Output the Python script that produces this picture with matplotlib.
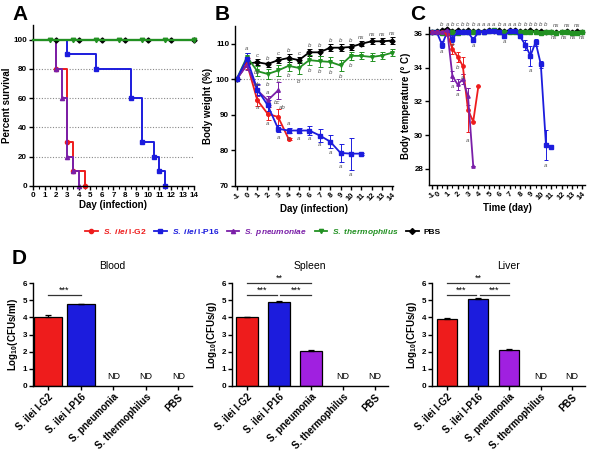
import numpy as np
import matplotlib
matplotlib.use("Agg")
import matplotlib.pyplot as plt
from matplotlib.lines import Line2D

plt.rcParams["font.family"] = ["Liberation Sans", "DejaVu Sans"]
plt.rcParams["font.weight"] = "bold"
plt.rcParams["axes.labelweight"] = "bold"
plt.rcParams["axes.linewidth"] = 1.0
plt.rcParams["mathtext.fontset"] = "custom"
plt.rcParams["mathtext.it"] = "Liberation Sans:bold:italic"
plt.rcParams["mathtext.rm"] = "Liberation Sans:bold"
plt.rcParams["mathtext.bf"] = "Liberation Sans:bold"

# ----------------------------
# colours / group names
# ----------------------------
RED, BLUE, PURPLE, GREEN, BLACK = "#ee1c1c", "#1c1cdd", "#7a1fa8", "#229122", "#000000"
BAR_PURPLE = "#a020e0"

# ----------------------------
# A: survival (Kaplan-Meier steps)
# ----------------------------
surv_red_t = [0, 2, 3, 3.5, 4.5]
surv_red = [100, 80, 30, 10, 0]
surv_purple_t = [0, 2, 2.5, 3, 3.5, 4]
surv_purple = [100, 80, 60, 20, 10, 0]
surv_blue_t = [0, 3, 5.5, 8.5, 9.5, 10.5, 11, 11.5]
surv_blue = [100, 90, 80, 60, 30, 20, 10, 0]
surv_green_marks = [1.5, 3.5, 5.5, 7.5, 9.5, 11.5, 14]
surv_black_marks = [2, 4, 6, 8, 10, 12, 14]

# ----------------------------
# B: body weight (%)
# ----------------------------
bw_days = list(range(-1, 15))
bw_black = [100, 104.4, 104.8, 104.3, 105.4, 106.0, 105.4, 107.6, 107.6, 108.9, 108.9, 109.1, 110.0, 110.7, 110.7, 110.9]
bw_black_err = [0, 0.8, 0.8, 0.7, 0.8, 1.0, 0.9, 1.0, 0.9, 1.0, 0.9, 0.8, 0.7, 0.8, 0.8, 1.1]
bw_green = [100, 106.3, 102.3, 101.5, 102.5, 103.8, 103.2, 105.4, 105.1, 104.9, 103.9, 106.6, 106.6, 106.3, 106.7, 107.5]
bw_green_err = [0, 1.2, 1.5, 1.5, 1.5, 1.5, 1.8, 1.5, 1.5, 1.5, 1.5, 1.2, 1.0, 1.2, 1.0, 1.0]
bw_blue = [100, 105.8, 97.1, 92.7, 86.1, 85.6, 85.6, 85.6, 84.2, 82.5, 79.3, 79.1, 79.1]
bw_blue_err = [0, 1.5, 1.5, 1.5, 1.0, 0.8, 0.8, 1.2, 1.8, 1.8, 2.5, 4.5, 0.3]
bw_red = [100, 104.4, 94.1, 90.3, 89.4, 83.3]
bw_red_err = [0, 1.5, 1.5, 1.8, 2.2, 0.3]
bw_purple = [100, 104.0, 96.9, 94.1, 96.9]
bw_purple_err = [0, 1.5, 1.5, 1.2, 2.3]
bw_letters = [
    (0, 108.6, "a"), (1, 106.6, "c"), (2, 106.0, "b"), (3, 107.2, "c"), (4, 108.0, "b"),
    (5, 107.3, "c"), (6, 109.6, "b"), (7, 109.6, "b"), (8, 110.8, "b"), (9, 110.8, "b"),
    (10, 111.0, "b"), (11, 111.8, "ns"), (12, 112.5, "ns"), (13, 112.5, "ns"), (14, 112.8, "ns"),
    (1, 101.9, "bc"), (2, 98.6, "b"), (3, 99.6, "c"), (4, 101.0, "b"), (5, 99.3, "b"),
    (6, 102.5, "b"), (7, 102.2, "b"), (8, 102.0, "b"), (9, 100.9, "b"), (10, 104.0, "b"),
    (1, 98.6, "ab"), (2, 96.4, "a"), (2.9, 93.4, "bc"), (3.35, 92.0, "ab"), (4, 87.6, "a"),
    (1, 92.0, "a"), (2, 87.5, "a"), (3, 83.6, "a"), (4, 83.4, "a"), (5, 83.4, "a"),
    (6, 83.3, "a"), (7, 81.6, "a"), (8, 79.3, "a"), (9, 75.5, "a"), (10, 73.3, "a"),
]

# ----------------------------
# C: body temperature
# ----------------------------
bt_t = [-1, 0, 0.5, 1, 1.5, 2, 2.5, 3, 3.5, 4, 4.5, 5, 5.5, 6, 6.5, 7, 7.5, 8, 8.5, 9,
        9.5, 10, 10.5, 11, 11.5, 12, 12.5, 13, 13.5, 14]
bt_black = [36.1, 36.15, 36.2, 36.3, 36.15, 36.2, 36.15, 36.2, 36.15, 36.15, 36.15, 36.2, 36.15, 36.2, 36.15,
            36.2, 36.2, 36.15, 36.15, 36.2, 36.15, 36.15, 36.1, 36.1, 36.1, 36.1, 36.15, 36.1, 36.15, 36.1]
bt_green = [36.1, 36.1, 36.05, 36.05, 36.1, 36.05, 36.1, 36.1, 36.1, 36.1, 36.1, 36.15, 36.25, 36.1, 36.1,
            36.1, 36.1, 36.1, 36.1, 36.1, 36.1, 36.05, 36.1, 36.1, 36.05, 36.1, 36.1, 36.05, 36.05, 36.1]
bt_blue = [36.1, 36.1, 35.35, 36.1, 35.7, 36.1, 36.1, 36.1, 35.65, 36.1, 36.1, 36.15, 36.15, 36.1, 35.85,
           36.15, 36.15, 35.85, 35.35, 34.7, 35.5, 34.2, 29.4, 29.3]
bt_blue_err = [0, 0, 0.2, 0, 0.2, 0, 0, 0, 0.15, 0, 0, 0, 0, 0, 0.1, 0, 0, 0.1, 0.3, 0.6, 0.2, 0.2, 0.9, 0.05]
bt_red = [36.1, 36.1, 36.1, 36.0, 35.1, 34.65, 34.1, 31.5, 30.8, 32.9]
bt_red_err = [0, 0, 0, 0.1, 0.3, 0.3, 0.5, 1.3, 0.05, 0]
bt_purple = [36.1, 36.1, 36.1, 36.2, 33.5, 33.0, 33.3, 32.3, 28.2]
bt_purple_err = [0, 0, 0, 0, 0.3, 0.35, 0.3, 0.5, 0]
bt_top_t = [0.5, 1, 1.5, 2, 2.5, 3, 3.5, 4, 4.5, 5, 5.5, 6, 6.5, 7, 7.5, 8, 8.5, 9, 9.5, 10, 10.5]
bt_top = ["b", "a", "b", "c", "b", "b", "b", "a", "a", "a", "a", "b", "a", "a", "a", "b", "b", "b", "b", "b", "b"]
bt_ns_top = [11.5, 12.5, 13.5]
bt_ns_bot = [11.25, 12.25, 13.1, 14]
bt_low = [(0.5, 34.95, "a"), (1.5, 35.35, "a"), (3.5, 35.3, "a"), (6.5, 35.55, "a"),
          (9, 33.8, "a"), (10.5, 28.2, "a"), (2, 34.0, "b"), (2.5, 33.4, "a"),
          (1.5, 32.9, "a"), (2, 32.4, "a"), (3, 29.7, "a")]

# ----------------------------
# D: bacterial load
# ----------------------------
organs = ["Blood", "Spleen", "Liver"]
ylabels = [r"Log$_{10}$(CFUs/ml)", r"Log$_{10}$(CFUs/g)", r"Log$_{10}$(CFUs/g)"]
d_cats = ["S. ilei I-G2", "S. ilei I-P16", "S. pneumonia", "S. thermophilus", "PBS"]
d_vals = [[4.0, 4.75, None, None, None],
          [4.0, 4.92, 2.05, None, None],
          [3.9, 5.08, 2.1, None, None]]
d_errs = [[0.15, 0.03, 0, 0, 0],
          [0.04, 0.02, 0.07, 0, 0],
          [0.05, 0.04, 0.06, 0, 0]]
d_sig = [[(0, 1, 5.3, "***")],
         [(0, 2, 6.0, "**"), (0, 0.95, 5.3, "***"), (1.05, 2, 5.3, "***")],
         [(0, 2, 6.0, "**"), (0, 0.95, 5.3, "***"), (1.05, 2, 5.3, "***")]]

fig = plt.figure(figsize=(6, 4.62), dpi=100)


def add_ax(l, t, r, b):
    return fig.add_axes([l / 600, 1 - b / 462, (r - l) / 600, (b - t) / 462])


def style(ax):
    ax.spines["top"].set_visible(False)
    ax.spines["right"].set_visible(False)
    ax.tick_params(direction="out", length=3, width=1, labelsize=5.8, pad=1.2)
    ax.tick_params(which="minor", length=1.8, width=0.8)


LTXT = dict(fontsize=4.4, style="italic", color="#555555", ha="center", va="center", fontweight="normal")

# ---------------- A ----------------
axA = add_ax(33, 25, 194, 186)
style(axA)
for yv in [20, 40, 60, 80]:
    axA.axhline(yv, color="#888888", lw=0.8, ls=(0, (1, 1.5)), zorder=0)
axA.plot([0, 14], [100, 100], color=BLACK, lw=1.5, zorder=2, clip_on=False)
axA.plot(surv_black_marks, [100] * len(surv_black_marks), "D", color=BLACK, ms=2.6, zorder=3, clip_on=False)
axA.plot(surv_red_t, surv_red, drawstyle="steps-post", color=RED, lw=1.4, clip_on=False)
axA.plot(surv_red_t[1:], surv_red[1:], "o", color=RED, ms=3, clip_on=False)
axA.plot(surv_purple_t, surv_purple, drawstyle="steps-post", color=PURPLE, lw=1.4, clip_on=False)
axA.plot(surv_purple_t[1:], surv_purple[1:], "^", color=PURPLE, ms=3, clip_on=False)
axA.plot(surv_blue_t, surv_blue, drawstyle="steps-post", color=BLUE, lw=1.4, clip_on=False)
axA.plot(surv_blue_t[1:], surv_blue[1:], "s", color=BLUE, ms=3, clip_on=False)
axA.plot([0, 14], [100, 100], color=GREEN, lw=1.6, zorder=4, clip_on=False)
axA.plot(surv_green_marks, [100] * len(surv_green_marks), "v", color=GREEN, ms=3.2, zorder=5, clip_on=False)
axA.set_xlim(0, 14)
axA.set_ylim(0, 110)
axA.set_xticks(range(0, 15))
axA.set_xticks(np.arange(0.5, 14, 1), minor=True)
axA.set_yticks(range(0, 101, 20))
axA.set_xlabel("Day (infection)", fontsize=7, labelpad=1)
axA.set_ylabel("Percent survival", fontsize=7, labelpad=1)

# ---------------- B ----------------
axB = add_ax(235, 26, 393, 186)
style(axB)
axB.axhline(100, color="#888888", lw=0.8, ls=(0, (1, 1.5)), zorder=0)
series_b = [(bw_black, bw_black_err, BLACK, "D"), (bw_green, bw_green_err, GREEN, "v"),
            (bw_red, bw_red_err, RED, "o"), (bw_purple, bw_purple_err, PURPLE, "^"),
            (bw_blue, bw_blue_err, BLUE, "s")]
for vals, errs, col, mk in series_b:
    axB.errorbar(bw_days[:len(vals)], vals, yerr=errs, color=col, marker=mk, ms=2.6, lw=1.3,
                 elinewidth=0.7, capsize=1.8, capthick=0.7, clip_on=False)
for d, v, s in bw_letters:
    axB.text(d, v, s, **LTXT)
axB.set_xlim(-1.15, 14.05)
axB.set_ylim(70, 115)
axB.set_yticks([70, 80, 90, 100, 110])
axB.set_xticks(bw_days)
axB.set_xticklabels([str(d) for d in bw_days], rotation=45, ha="right", rotation_mode="anchor", fontsize=5.5)
axB.set_xlabel("Day (infection)", fontsize=7, labelpad=1)
axB.set_ylabel("Body weight (%)", fontsize=7, labelpad=2)

# ---------------- C ----------------
def fwd(t):
    t = np.asarray(t, float)
    return np.where(t < 0, t + 1, 2 * t + 1)


def inv(p):
    p = np.asarray(p, float)
    return np.where(p < 1, p - 1, (p - 1) / 2)


axC = add_ax(429, 27, 585, 185)
style(axC)
axC.set_xscale("function", functions=(fwd, inv))
series_c = [(bt_black, None, BLACK, "D"), (bt_green, None, GREEN, "s"),
            (bt_blue, bt_blue_err, BLUE, "s"), (bt_red, bt_red_err, RED, "o"),
            (bt_purple, bt_purple_err, PURPLE, "^")]
for vals, errs, col, mk in series_c:
    axC.errorbar(bt_t[:len(vals)], vals, yerr=errs, color=col, marker=mk, ms=2.4, lw=1.3,
                 elinewidth=0.7, capsize=1.5, capthick=0.7, clip_on=False)
for t, s in zip(bt_top_t, bt_top):
    axC.text(t, 36.55, s, **LTXT)
for t in bt_ns_top:
    axC.text(t, 36.5, "ns", **LTXT)
for t in bt_ns_bot:
    axC.text(t, 35.8, "ns", **LTXT)
for t, v, s in bt_low:
    axC.text(t, v, s, **LTXT)
c_ticks = list(range(-1, 15))
axC.set_xticks(c_ticks)
axC.set_xticks(np.arange(0.5, 14, 1), minor=True)
axC.set_xticklabels([str(d) for d in c_ticks], rotation=45, ha="right", rotation_mode="anchor", fontsize=5.5)
axC.set_xlim(-1.5, 14.25)
axC.set_ylim(27.05, 36.4)
axC.set_yticks([28, 30, 32, 34, 36])
axC.set_xlabel("Time (day)", fontsize=7, labelpad=1)
axC.set_ylabel("Body temperature (\u00b0 C)", fontsize=7, labelpad=2)

# ---------------- legend ----------------
leg_cols = [RED, BLUE, PURPLE, GREEN, BLACK]
leg_marks = ["o", "s", "^", "v", "D"]
leg_labels = [r"$\mathit{S.\ ilei}$ I-G2", r"$\mathit{S.\ ilei}$ I-P16", r"$\mathit{S.\ pneumoniae}$",
              r"$\mathit{S.\ thermophilus}$", "PBS"]
handles = [Line2D([], [], color=c, marker=m, ms=3, lw=1.3) for c, m in zip(leg_cols, leg_marks)]
leg = fig.legend(handles, leg_labels, loc="center", bbox_to_anchor=(263 / 600, 1 - 232 / 462), ncol=5,
                 frameon=False, fontsize=6, handlelength=1.5, handletextpad=0.6, columnspacing=0.9)
for txt, c in zip(leg.get_texts(), leg_cols):
    txt.set_color(c)

# ---------------- D ----------------
d_rects = [(33, 283, 192, 386), (232, 283, 388, 386), (432, 283, 585, 386)]
d_width = [0.85, 0.7, 0.65]
bar_cols = [RED, BLUE, BAR_PURPLE, BAR_PURPLE, BAR_PURPLE]
for k, organ in enumerate(organs):
    ax = add_ax(*d_rects[k])
    style(ax)
    xs = np.arange(len(d_cats))
    for i, (v, e) in enumerate(zip(d_vals[k], d_errs[k])):
        if v is None:
            ax.text(i, 0.55, "ND", ha="center", va="center", fontsize=6.5, fontweight="normal")
            continue
        ax.bar(i, v, width=d_width[k], color=bar_cols[i], edgecolor="black", lw=0.9, zorder=2)
        ax.errorbar(i, v, yerr=[[0], [e]], color="black", capsize=2.5, elinewidth=0.9, capthick=0.9, zorder=3)
    for a, b, yv, s in d_sig[k]:
        ax.plot([a, b], [yv, yv], color="#333333", lw=0.9, clip_on=False)
        ax.text((a + b) / 2, yv + 0.02, s, ha="center", va="bottom", fontsize=6.5, fontweight="normal")
    ax.set_xlim(-0.47, 4.42)
    ax.set_ylim(0, 6)
    ax.set_yticks(range(0, 7))
    ax.set_xticks(xs)
    ax.set_xticklabels(d_cats, rotation=45, ha="right", rotation_mode="anchor", fontsize=7)
    ax.set_ylabel(ylabels[k], fontsize=7, labelpad=2)
    ax.set_title(organ, fontsize=7.5, pad=10)

# panel letters
for s, x, y in [("A", 12, 15), ("B", 215, 15), ("C", 410, 15), ("D", 12, 258)]:
    fig.text(x / 600, 1 - y / 462, s, fontsize=15, fontweight="bold", ha="left", va="center")

fig.savefig("out.png", dpi=100)
